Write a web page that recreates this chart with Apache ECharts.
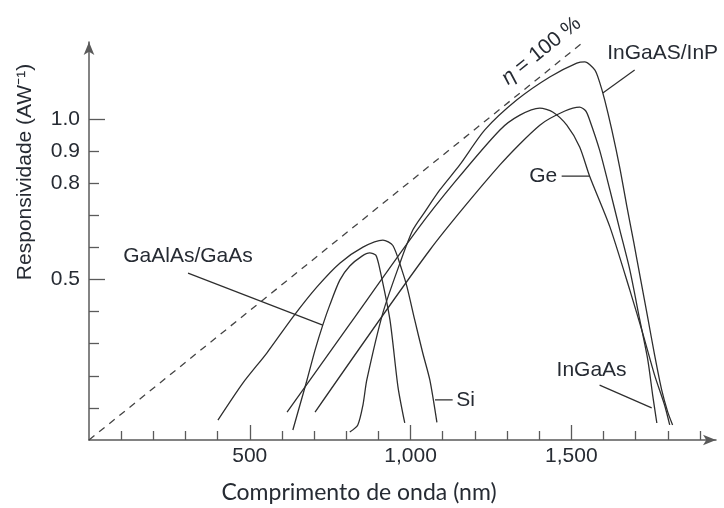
<!DOCTYPE html>
<html><head><meta charset="utf-8">
<script src="https://cdn.jsdelivr.net/npm/echarts@6/dist/echarts.min.js"></script>
<style>html,body{margin:0;padding:0;background:#fff}#c{width:724px;height:508px}</style>
</head><body><div id="c"></div>
<script>
// ---- data ----
const xMinorTicks = [100,200,300,400,600,700,800,900,1100,1200,1300,1400,1600,1700,1800,1900];
const xMajorTicks = [500,1000,1500];
const xTickLabels = [500,1000,1500];
const yMinorTicks = [0.1,0.2,0.3,0.4,0.6,0.7,0.8,0.9];
const yMajorTicks = [0.5,1.0];
const yTickLabels = [0.5,0.8,0.9,1.0];

const etaLine = [[0,0],[1550,1.25]];
const siData = [[401,0.062],[479,0.178],[553,0.271],[634,0.383],[709,0.477],[780,0.551],[852,0.601],[914,0.623],[945,0.606],[973,0.530],[989,0.477],[1013,0.374],[1038,0.271],[1060,0.187],[1082,0.055]];
const gaalasData = [[634,0.031],[656,0.109],[678,0.187],[703,0.280],[727,0.358],[749,0.421],[780,0.498],[811,0.542],[849,0.573],[873,0.583],[892,0.576],[905,0.530],[936,0.374],[961,0.165],[982,0.053]];
const ingaasInpData = [[811,0.025],[836,0.047],[852,0.109],[864,0.187],[914,0.396],[967,0.551],[1007,0.654],[1044,0.710],[1091,0.779],[1153,0.857],[1231,0.966],[1330,1.059],[1433,1.131],[1517,1.174],[1542,1.178],[1573,1.153],[1588,1.115],[1604,1.059],[1626,0.966],[1651,0.847],[1672,0.732],[1694,0.617],[1716,0.498],[1738,0.380],[1759,0.265],[1781,0.156],[1800,0.087],[1815,0.047]];
const geData = [[616,0.087],[811,0.361],[1020,0.654],[1138,0.804],[1278,0.966],[1340,1.012],[1402,1.034],[1442,1.022],[1486,0.981],[1526,0.913],[1557,0.822],[1620,0.664],[1682,0.467],[1722,0.333],[1759,0.202],[1790,0.109],[1806,0.047]];
const ingaasData = [[703,0.087],[1060,0.592],[1278,0.857],[1402,0.981],[1480,1.025],[1526,1.037],[1545,1.025],[1557,0.997],[1588,0.903],[1620,0.779],[1651,0.654],[1682,0.530],[1713,0.374],[1738,0.249],[1753,0.140],[1766,0.053]];

const leaderGaAlAs = [[308,0.520],[727,0.358]];
const leaderSi = [[1131,0.125],[1076,0.125]];
const leaderGe = [[1470,0.822],[1557,0.822]];
const leaderInGaAs = [[1588,0.171],[1750,0.100]];
const leaderInP = [[1697,1.153],[1598,1.081]];
const etaLabelAt = 1445;

// ---- styles ----
const ink = '#2e2e2e';
const axisColor = '#5a5a5a';
const textColor = '#262b33';
const FONT = "'Liberation Sans', Arial, Helvetica, sans-serif";
const chart = echarts.init(document.getElementById('c'), null, {renderer:'canvas'});

function curve(name, data){
  return {name, type:'line', data, showSymbol:false, symbol:'none', smooth:0.25,
    lineStyle:{color:ink, width:1.3}, z:3, silent:true};
}
function leader(text, data, labelOpt){
  return {type:'line', data: data.map((p,i)=> i===0 ? {value:p, label:Object.assign({show:true, formatter:text,
      color:textColor, fontSize:21, fontFamily:FONT}, labelOpt)} : {value:p}),
    symbol:'circle', symbolSize:1, showSymbol:true, itemStyle:{color:'rgba(0,0,0,0)'},
    lineStyle:{color:ink, width:1.2}, z:4, silent:true};
}
const xmax = 1950, ymax = 1.24;
const option = {
  animation:false,
  grid:{left:89, right:8, top:42, bottom:68, containLabel:false},
  xAxis:[{type:'value', min:0, max:xmax, position:'bottom',
      axisLine:{show:true, symbol:['none','arrow'], symbolSize:[8,13], lineStyle:{color:axisColor, width:1.5}},
      axisTick:{show:true, inside:true, length:9, customValues:xMinorTicks, lineStyle:{color:axisColor, width:1.3}},
      axisLabel:{show:true, customValues:xTickLabels, margin:6, fontSize:21, fontFamily:FONT, color:textColor,
        formatter:v=>String(v).replace(/\B(?=(\d{3})+(?!\d))/g, ',')},
      splitLine:{show:false}},
    {type:'value', min:0, max:xmax, position:'bottom', offset:0,
      axisLine:{show:false}, axisLabel:{show:false}, splitLine:{show:false},
      axisTick:{show:true, inside:true, length:15, customValues:xMajorTicks, lineStyle:{color:axisColor, width:1.3}}}],
  yAxis:[{type:'value', min:0, max:ymax, position:'left',
      axisLine:{show:true, symbol:['none','arrow'], symbolSize:[8,13], lineStyle:{color:axisColor, width:1.5}},
      axisTick:{show:true, inside:true, length:10, customValues:yMinorTicks, lineStyle:{color:axisColor, width:1.3}},
      axisLabel:{show:true, customValues:yTickLabels, margin:9, fontSize:21, fontFamily:FONT, color:textColor,
        formatter:v=>v.toFixed(1)},
      splitLine:{show:false}},
    {type:'value', min:0, max:ymax, position:'left', offset:0,
      axisLine:{show:false}, axisLabel:{show:false}, splitLine:{show:false},
      axisTick:{show:true, inside:true, length:16, customValues:yMajorTicks, lineStyle:{color:axisColor, width:1.3}}}],
  series:[
    {type:'line', data:etaLine, showSymbol:false, symbol:'none', lineStyle:{color:'#444', width:1.3, type:[7,6]}, z:2, silent:true},
    curve('Si', siData),
    curve('GaAlAs/GaAs', gaalasData),
    curve('InGaAS/InP', ingaasInpData),
    curve('Ge', geData),
    curve('InGaAs', ingaasData),
    leader('GaAlAs/GaAs', leaderGaAlAs, {position:'top', distance:6}),
    leader('Si', leaderSi, {position:'right', distance:3}),
    leader('Ge', leaderGe, {position:'left', distance:4}),
    leader('InGaAs', leaderInGaAs, {position:'top', distance:4, offset:[-8,0]}),
    leader('InGaAS/InP', leaderInP, {position:'top', distance:6, offset:[28,0]})
  ]
};
chart.setOption(option);

// η label along the dashed line, and axis titles
const p1 = chart.convertToPixel({gridIndex:0}, etaLine[0]);
const p2 = chart.convertToPixel({gridIndex:0}, etaLine[1]);
const theta = Math.atan2(p1[1]-p2[1], p2[0]-p1[0]);
const pl = chart.convertToPixel({gridIndex:0}, [etaLabelAt, etaLabelAt*etaLine[1][1]/etaLine[1][0]]);
const off = 9;
const lx = pl[0] - off*Math.sin(theta), ly = pl[1] - off*Math.cos(theta);
chart.setOption({graphic:[
  {type:'text', x:lx, y:ly, rotation:theta, z:10, silent:true,
    style:{text:'{i|η} = 100 %', fill:textColor, font:'21px '+FONT, align:'center', verticalAlign:'bottom',
      rich:{i:{fontStyle:'italic', fontSize:21, fontFamily:FONT, fill:textColor}}}},
  {type:'text', x:25, y:172, rotation:Math.PI/2, z:10, silent:true,
    style:{text:'Responsividade (AW⁻¹)', fill:textColor, font:'21px '+FONT, align:'center', verticalAlign:'middle'}},
  {type:'text', x:359, y:493, z:10, silent:true,
    style:{text:'Comprimento de onda (nm)', fill:textColor, font:'23px Lato, sans-serif', align:'center', verticalAlign:'middle'}}
]});
</script></body></html>
